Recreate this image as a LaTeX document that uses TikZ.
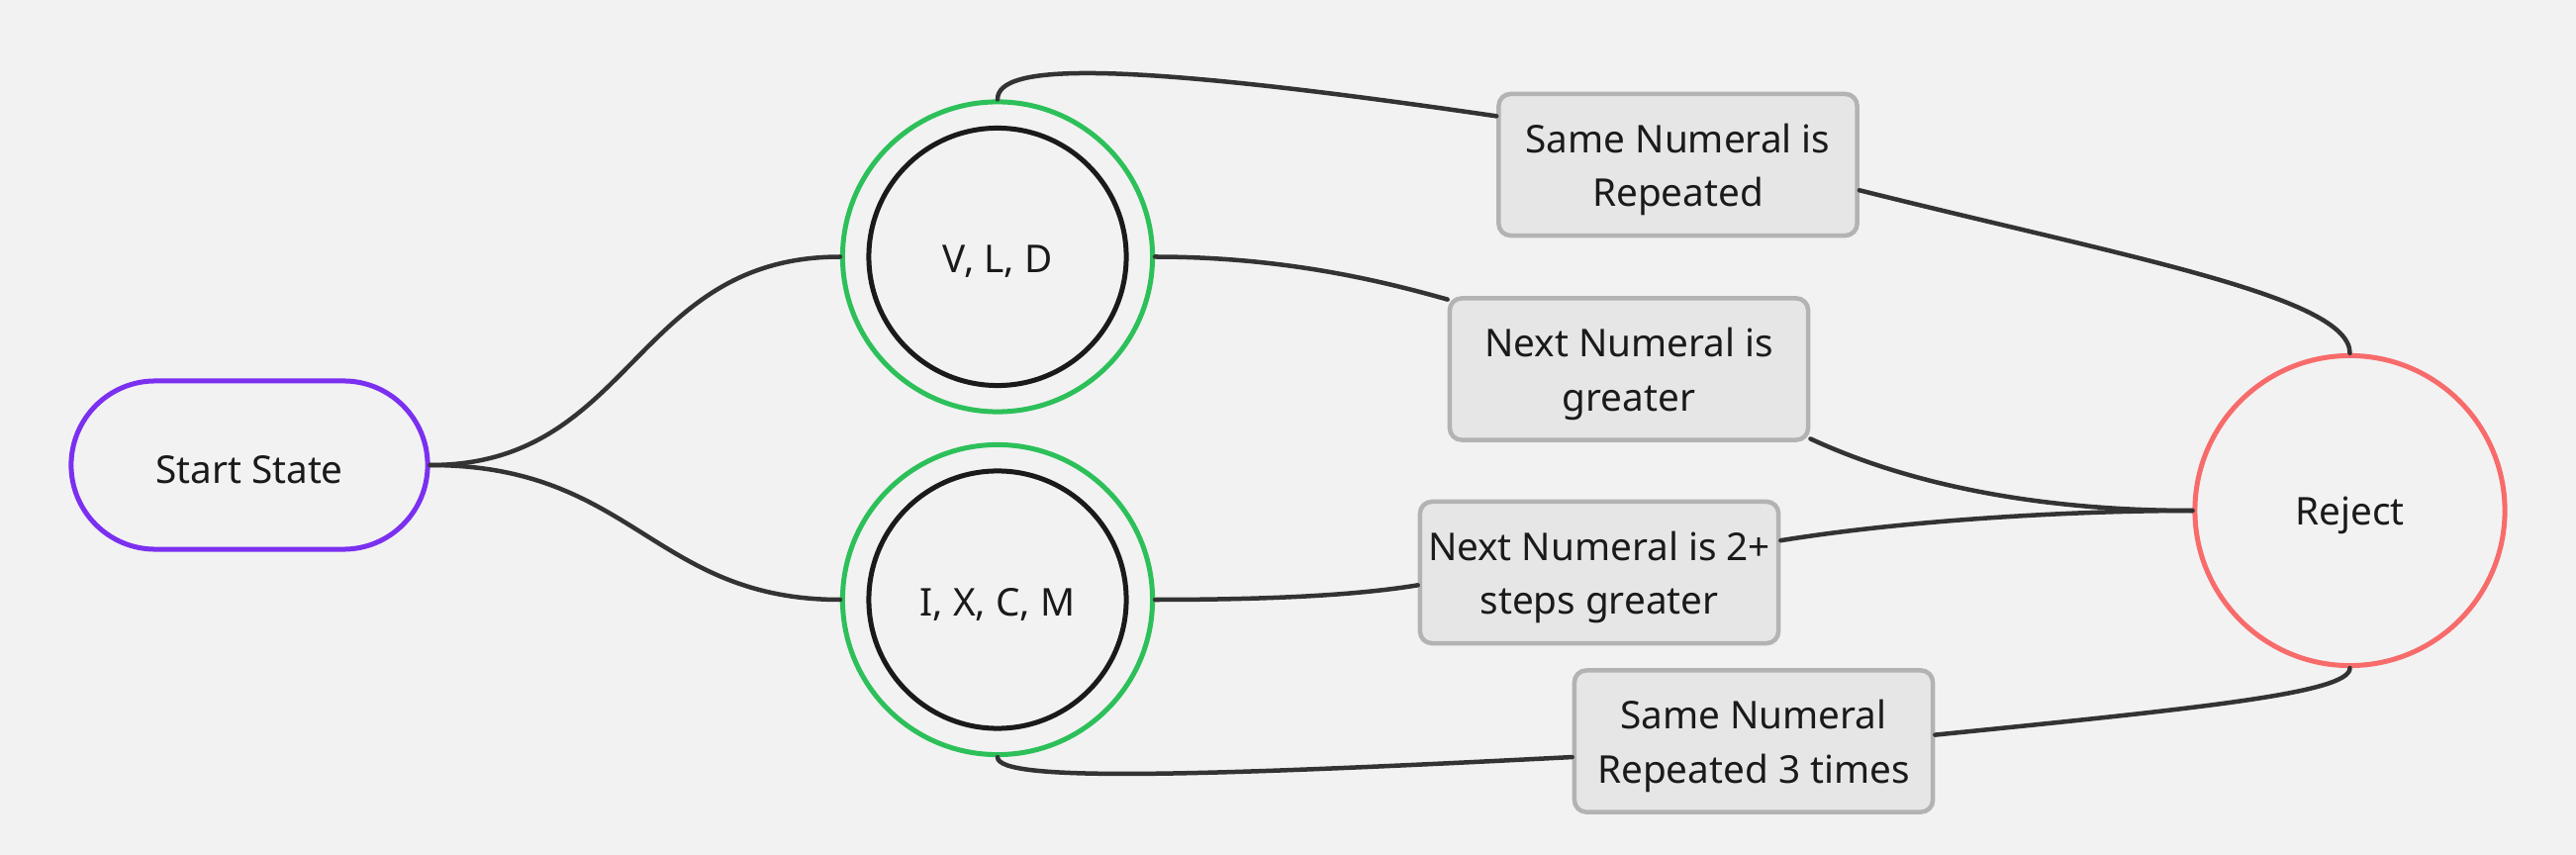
\documentclass[tikz,border=0pt]{standalone}
\usepackage{fontspec}
\setmainfont{Noto Sans}
\definecolor{bg}{HTML}{F2F2F2}
\definecolor{purp}{HTML}{7B30F0}
\definecolor{grn}{HTML}{2DC05A}
\definecolor{rred}{HTML}{F86B6B}
\definecolor{ink}{HTML}{1A1A1A}
\definecolor{conn}{HTML}{333333}
\definecolor{boxfill}{HTML}{E6E6E6}
\definecolor{boxline}{HTML}{B3B3B3}
\newcommand{\lowr}[1]{\raisebox{-1.4pt}[\height][\depth]{#1}}
\begin{document}
\begin{tikzpicture}[x=0.01cm,y=-0.01cm,
  every node/.style={font=\fontsize{11}{15.6}\selectfont, text=ink, align=center},
  startbox/.style={draw=purp, line width=0.05cm, rounded corners=0.85cm, minimum width=3.6cm, minimum height=1.7cm},
  outerring/.style={circle, draw=grn, line width=0.05cm, minimum size=3.13cm, inner sep=0pt},
  innerring/.style={circle, draw=ink, line width=0.05cm, minimum size=2.6cm, inner sep=0pt},
  rejectnode/.style={circle, draw=rred, line width=0.05cm, minimum size=3.13cm, inner sep=0pt},
  condbox/.style={draw=boxline, fill=boxfill, line width=0.045cm, rounded corners=0.12cm, minimum width=3.62cm, minimum height=1.43cm, inner sep=0pt},
  link/.style={draw=conn, line width=0.045cm, line cap=round}
]
\fill[bg] (0,0) rectangle (2603,864);
\useasboundingbox (0,0) rectangle (2603,864);

\node[startbox] (start) at (252,470) {\lowr{Start State}};
\node[outerring] (vld) at (1008,259.5) {};
\node[innerring] (vldin) at (1008,259.5) {\lowr{V, L, D}};
\node[outerring] (ixcm) at (1008,606) {};
\node[innerring] (ixcmin) at (1008,606) {\lowr{I, X, C, M}};
\node[rejectnode] (rej) at (2374.5,516) {\lowr{Reject}};

\node[condbox] (b1) at (1695.5,166.5) {\lowr{Same Numeral is}\\\lowr{Repeated}};
\node[condbox] (b2) at (1646,373) {\lowr{Next Numeral is}\\\lowr{greater}};
\node[condbox] (b3) at (1616,578.5) {\lowr{Next Numeral is 2+}\\\lowr{steps greater}};
\node[condbox] (b4) at (1772,749) {\lowr{Same Numeral}\\\lowr{Repeated 3 times}};

\draw[link] (start.east) .. controls (640,470) and (640,259.5) .. (vld.west);
\draw[link] (start.east) .. controls (640,470) and (660,606) .. (ixcm.west);

\draw[link] (vld.north) .. controls (1008,65) and (1120,60) .. (b1.165.9);
\draw[link] (b1.352) .. controls (2150,260) and (2374.5,300) .. (rej.north);

\draw[link] (vld.east) .. controls (1300,259.5) and (1400,285) .. (b2.159.4);
\draw[link] (b2.339.7) .. controls (1930,490) and (2060,516) .. (rej.west);

\draw[link] (ixcm.east) .. controls (1300,606) and (1380,600) .. (b3.184.9);
\draw[link] (b3.10.5) .. controls (1930,525) and (2100,516) .. (rej.west);

\draw[link] (ixcm.south) .. controls (1008,790) and (1200,785) .. (b4.185.7);
\draw[link] (b4.2.8) .. controls (2230,715) and (2374.5,700) .. (rej.south);
\end{tikzpicture}
\end{document}
